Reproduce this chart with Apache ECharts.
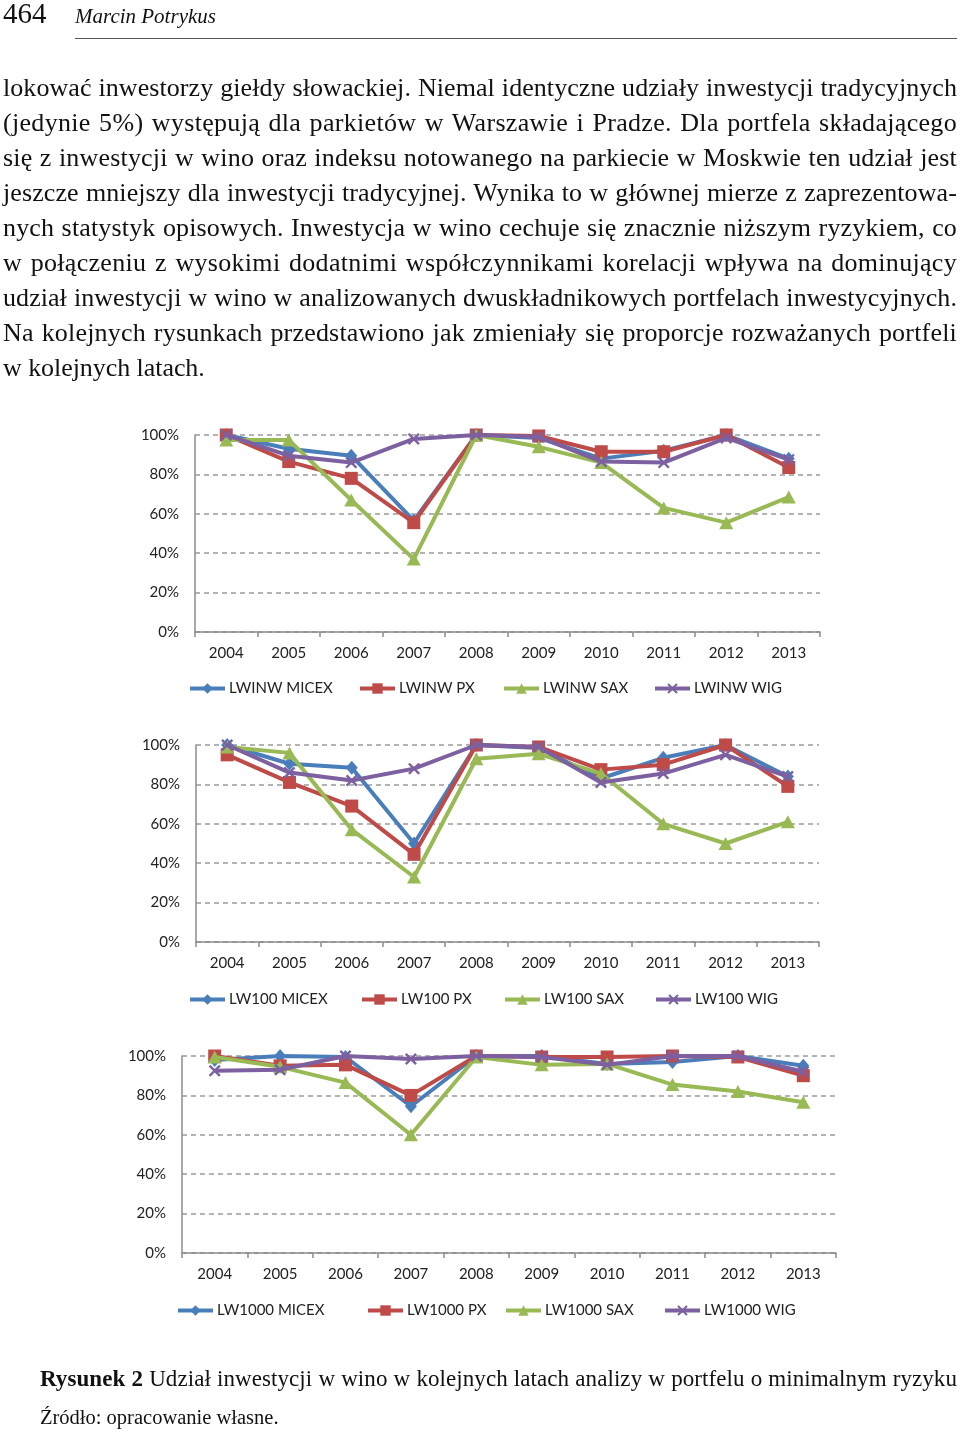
<!DOCTYPE html>
<html><head><meta charset="utf-8">
<script src="https://cdn.jsdelivr.net/npm/echarts@6/dist/echarts.min.js"></script>
<style>
html,body{margin:0;padding:0;background:#fff;width:960px;height:1433px;overflow:hidden;}
#chart{position:absolute;left:0;top:0;width:960px;height:1433px;z-index:1;}
.t{position:absolute;z-index:2;font-family:"Liberation Serif","DejaVu Serif",serif;color:#111;white-space:nowrap;}
.line{position:absolute;left:3px;font-size:26px;line-height:35px;}
</style></head>
<body>
<div id="chart"></div>
<div class="t" style="left:3px;top:-3px;font-size:29px;">464</div>
<div class="t" style="left:75px;top:4px;font-size:21px;font-style:italic;">Marcin Potrykus</div>
<div style="position:absolute;left:75px;top:38px;width:882px;height:1px;background:#555;z-index:2"></div>
<div id="para"></div>
<div id="cap"></div>
<script>
// ---------- text ----------
const paragraphLines = [
 "lokować inwestorzy giełdy słowackiej. Niemal identyczne udziały inwestycji tradycyjnych",
 "(jedynie 5%) występują dla parkietów w Warszawie i Pradze. Dla portfela składającego",
 "się z inwestycji w wino oraz indeksu notowanego na parkiecie w Moskwie ten udział jest",
 "jeszcze mniejszy dla inwestycji tradycyjnej. Wynika to w głównej mierze z zaprezentowa-",
 "nych statystyk opisowych. Inwestycja w wino cechuje się znacznie niższym ryzykiem, co",
 "w połączeniu z wysokimi dodatnimi współczynnikami korelacji wpływa na dominujący",
 "udział inwestycji w wino w analizowanych dwuskładnikowych portfelach inwestycyjnych.",
 "Na kolejnych rysunkach przedstawiono jak zmieniały się proporcje rozważanych portfeli",
 "w kolejnych latach."
];
const captionBold = "Rysunek 2";
const captionText = " Udział inwestycji w wino w kolejnych latach analizy w portfelu o minimalnym ryzyku";
const sourceText = "Źródło: opracowanie własne.";

// ---------- data ----------
const years = ['2004','2005','2006','2007','2008','2009','2010','2011','2012','2013'];
const yTicks = [0,20,40,60,80,100];

const lwinwMicex = [100, 93, 89.5, 56.5, 100, 98.5, 88, 92, 100, 88];
const lwinwPx    = [100, 86.5, 78, 55.5, 100, 99.5, 91.5, 91.5, 100, 83.5];
const lwinwSax   = [97.5, 97.5, 67, 37, 100, 94, 86, 63, 55.5, 68.5];
const lwinwWig   = [100, 89.5, 86, 98, 100, 99, 86.5, 86, 98.5, 87.5];

const lw100Micex = [100, 90.5, 88.5, 50, 100, 98.5, 83, 93.5, 100, 84];
const lw100Px    = [95, 81, 69, 44.5, 100, 99, 87.5, 90, 100, 79];
const lw100Sax   = [99, 96, 57, 33, 93, 95.5, 85.5, 60, 50, 61];
const lw100Wig   = [100, 86, 82, 88, 100, 99, 81, 85.5, 95, 84];

const lw1000Micex = [98, 100, 99.5, 74.5, 100, 100, 96, 97, 100, 95];
const lw1000Px    = [100, 95, 95.5, 80, 100, 99.5, 99.5, 100, 99.5, 90];
const lw1000Sax   = [99.5, 94.5, 86.5, 60, 99.5, 95.5, 96, 85.5, 82, 76.5];
const lw1000Wig   = [92.5, 93, 100, 98.5, 100, 99.5, 95.5, 100, 100, 92];

const panels = [
  {names:['LWINW MICEX','LWINW PX','LWINW SAX','LWINW WIG'], data:[lwinwMicex,lwinwPx,lwinwSax,lwinwWig]},
  {names:['LW100 MICEX','LW100 PX','LW100 SAX','LW100 WIG'], data:[lw100Micex,lw100Px,lw100Sax,lw100Wig]},
  {names:['LW1000 MICEX','LW1000 PX','LW1000 SAX','LW1000 WIG'], data:[lw1000Micex,lw1000Px,lw1000Sax,lw1000Wig]}
];

// ---------- text layout ----------
function fitLine(d, target, txt) {
  const w = d.getBoundingClientRect().width;
  const n = txt.length;
  const spaces = (txt.match(/ /g)||[]).length;
  const diff = target - w;
  d.style.letterSpacing = (diff*0.6/n) + 'px';
  const w2 = d.getBoundingClientRect().width;
  d.style.wordSpacing = ((target - w2)/spaces) + 'px';
}
const para = document.getElementById('para');
paragraphLines.forEach((txt,i)=>{
  const d = document.createElement('div');
  d.className='t line';
  d.style.top = (70 + i*35) + 'px';
  d.textContent = txt;
  para.appendChild(d);
  if (i < paragraphLines.length-1) fitLine(d, 954, txt);
  else {
    const w = d.getBoundingClientRect().width;
    d.style.letterSpacing = ((201 - w)*0.6/txt.length) + 'px';
  }
});
const cap = document.getElementById('cap');
const c1 = document.createElement('div');
c1.className='t';
c1.style.cssText='left:40px;top:1364px;font-size:23px;line-height:30px;';
const b = document.createElement('b'); b.textContent = captionBold;
c1.appendChild(b); c1.appendChild(document.createTextNode(captionText));
cap.appendChild(c1);
fitLine(c1, 917, captionBold+captionText);
const c2 = document.createElement('div');
c2.className='t';
c2.style.cssText='left:40px;top:1404px;font-size:20.5px;line-height:26px;';
c2.textContent = sourceText;
cap.appendChild(c2);

// ---------- chart ----------
const colors = ['#4A7EBB','#BE4B48','#98B954','#7D60A0'];
const xMark = 'path://M0,1.4 L1.4,0 L5,3.6 L8.6,0 L10,1.4 L6.4,5 L10,8.6 L8.6,10 L5,6.4 L1.4,10 L0,8.6 L3.6,5 Z';
const symbols = ['diamond','rect','triangle', xMark];
const symSizes = [[12,14],13,[14,13],12];

const grids = [
  {left:195, top:435, width:625, height:197},
  {left:196, top:745, width:623, height:197},
  {left:182, top:1056, width:654, height:197}
];
const legendPos = [
  {y:681, x:[188,358,502,653]},
  {y:992, x:[188,360,503,654]},
  {y:1303, x:[176,366,504,663]}
];

const font = 'Lato, "Open Sans", sans-serif';
const option = {
  animation:false,
  color: colors,
  grid: grids.map(g=>({left:g.left, top:g.top, width:g.width, height:g.height, containLabel:false})),
  xAxis: grids.map((g,i)=>({
    type:'category', gridIndex:i, data:years, boundaryGap:true,
    axisLine:{show:true, lineStyle:{color:'#8c8c8c', width:1.5}},
    axisTick:{show:true, length:5, lineStyle:{color:'#8c8c8c', width:1.5}},
    axisLabel:{color:'#222', fontFamily:font, fontSize:15, margin:14}
  })),
  yAxis: grids.map((g,i)=>({
    type:'value', gridIndex:i, min:yTicks[0], max:yTicks[yTicks.length-1], interval:20,
    axisLine:{show:true, lineStyle:{color:'#8c8c8c', width:1.5}},
    axisTick:{show:false},
    axisLabel:{color:'#222', fontFamily:font, fontSize:15, margin:16, formatter:'{value}%'},
    splitLine:{show:true, lineStyle:{color:'#9a9a9a', width:1.5, type:[5,4]}}
  })),
  legend: [],
  series: []
};
panels.forEach((p,pi)=>{
  p.names.forEach((n,si)=>{
    option.series.push({
      name:n, type:'line', xAxisIndex:pi, yAxisIndex:pi, data:p.data[si],
      symbol:symbols[si], symbolSize:symSizes[si], showSymbol:true,
      lineStyle:{width:4, color:colors[si]},
      itemStyle:{color:colors[si], borderWidth:0},
      z: 2+si
    });
    option.legend.push({
      data:[n], left:legendPos[pi].x[si], top:legendPos[pi].y,
      itemWidth:35, itemHeight:13, itemGap:0, padding:0,
      lineStyle:{width:4},
      textStyle:{fontFamily:font, fontSize:15, color:'#222', padding:[0,0,0,-1]},
      selectedMode:false
    });
  });
});
const chart = echarts.init(document.getElementById('chart'), null, {renderer:'canvas'});
chart.setOption(option);
</script>
</body></html>
